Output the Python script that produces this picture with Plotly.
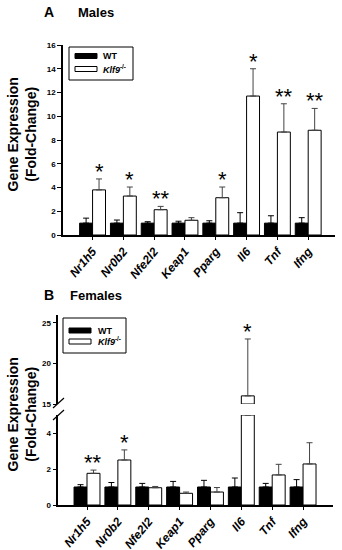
import plotly.graph_objects as go

genes = ["Nr1h5", "Nr0b2", "Nfe2l2", "Keap1", "Pparg", "Il6", "Tnf", "Ifng"]

# Panel A (Males)
a_wt = [1.0, 1.0, 1.0, 1.0, 1.0, 1.0, 1.0, 1.0]
a_wt_err = [0.42, 0.26, 0.12, 0.16, 0.2, 0.88, 0.62, 0.46]
a_ko = [3.8, 3.28, 2.13, 1.24, 3.14, 11.7, 8.67, 8.82]
a_ko_err = [0.92, 0.76, 0.28, 0.22, 0.9, 2.3, 2.38, 1.84]
a_stars = ["*", "*", "**", "", "*", "*", "**", "**"]

# Panel B (Females)
b_wt = [1.0, 1.0, 1.0, 1.0, 1.0, 1.0, 1.0, 1.0]
b_wt_err = [0.13, 0.25, 0.2, 0.31, 0.37, 0.5, 0.2, 0.41]
b_ko = [1.76, 2.5, 0.96, 0.65, 0.72, 16.0, 1.67, 2.28]
b_ko_err = [0.18, 0.56, 0.07, 0.07, 0.25, 7.0, 0.59, 1.18]
b_stars = ["**", "*", "", "", "", "*", "", ""]

W, H = 342, 550
FONT = "Liberation Sans, Arial, sans-serif"
BW = 0.42


def px(x):
    return x / W


def py(y):
    return 1 - y / H


xs = list(range(len(genes)))
fig = go.Figure()


def bars(wt, wte, ko, koe, xa, ya):
    fig.add_trace(go.Bar(
        x=xs, y=wt, width=BW, offset=-BW, xaxis=xa, yaxis=ya,
        marker=dict(color="black", line=dict(color="black", width=1)),
        error_y=dict(type="data", array=wte, arrayminus=[0] * len(wte),
                     symmetric=False, color="black", thickness=1, width=3),
        showlegend=False))
    fig.add_trace(go.Bar(
        x=xs, y=ko, width=BW, offset=0, xaxis=xa, yaxis=ya,
        marker=dict(color="white", line=dict(color="black", width=1)),
        error_y=dict(type="data", array=koe, arrayminus=[0] * len(koe),
                     symmetric=False, color="#444", thickness=1, width=3),
        showlegend=False))


# Panel A
bars(a_wt, a_wt_err, a_ko, a_ko_err, "x", "y")
# Panel B lower part (0-5), values above the break are cut at the break
B_LOW_MAX = 5
B_TOP_MIN = 15
b_ko_low = [min(v, B_LOW_MAX) for v in b_ko]
b_ko_low_err = [e if v <= B_LOW_MAX else 0 for v, e in zip(b_ko, b_ko_err)]
bars(b_wt, b_wt_err, b_ko_low, b_ko_low_err, "x2", "y2")
# Panel B upper part (broken axis)
b_top = [v - B_TOP_MIN if v > B_TOP_MIN else None for v in b_ko]
b_top_err = [e if v > B_TOP_MIN else 0 for v, e in zip(b_ko, b_ko_err)]
fig.add_trace(go.Bar(
    x=xs, y=b_top, base=B_TOP_MIN, width=BW, offset=0, xaxis="x3", yaxis="y3",
    marker=dict(color="white", line=dict(color="black", width=1)),
    error_y=dict(type="data", array=b_top_err, arrayminus=[0] * len(b_top_err),
                 symmetric=False, color="#444", thickness=1, width=3),
    showlegend=False))

ytickfont = dict(family=FONT, size=8, color="black", weight="bold")
xtickfont = dict(family=FONT, size=12, color="black", weight="bold", style="italic")

yax = dict(showline=True, linecolor="black", linewidth=1.5, ticks="outside",
           ticklen=4, tickwidth=1, tickcolor="black", showgrid=False, zeroline=False,
           tickfont=ytickfont, automargin=False)
xax = dict(showline=True, linecolor="black", linewidth=1.5, ticks="outside",
           ticklen=3, tickwidth=1, tickcolor="black", showgrid=False, zeroline=False,
           tickmode="array", tickvals=xs, ticktext=genes, tickangle=-50,
           tickfont=xtickfont, automargin=False)

fig.update_layout(
    width=W, height=H, margin=dict(l=0, r=0, t=0, b=0, autoexpand=False),
    paper_bgcolor="white", plot_bgcolor="rgba(0,0,0,0)",
    barmode="overlay", showlegend=False,
    xaxis=dict(xax, domain=[px(63), px(335)], range=[-0.96, 7.87], anchor="y"),
    yaxis=dict(yax, domain=[py(235), py(45)], range=[0, 16],
               tickvals=[0, 2, 4, 6, 8, 10, 12, 14, 16], anchor="x"),
    xaxis2=dict(xax, domain=[px(58.3), px(333)], range=[-0.93, 7.97], anchor="y2"),
    yaxis2=dict(yax, domain=[py(505), py(415)], range=[0, B_LOW_MAX],
                tickvals=[0, 2, 4], anchor="x2"),
    xaxis3=dict(domain=[px(58.3), px(333)], range=[-0.93, 7.97], anchor="y3",
                visible=False, automargin=False),
    yaxis3=dict(yax, domain=[py(404), py(314.6)], range=[B_TOP_MIN, 26],
                tickvals=[15, 20, 25], anchor="x3"),
)

ann = []
# stars
for i, s in enumerate(a_stars):
    if s:
        ann.append(dict(x=i + BW / 2, y=a_ko[i] + a_ko_err[i], xref="x", yref="y",
                        text=s, showarrow=False, yanchor="bottom", yshift=-7,
                        font=dict(family=FONT, size=22, color="black")))
for i, s in enumerate(b_stars):
    if s:
        top = b_ko[i] + b_ko_err[i]
        upper = b_ko[i] > B_TOP_MIN
        ann.append(dict(x=i + BW / 2, y=top, xref="x3" if upper else "x2",
                        yref="y3" if upper else "y2", text=s, showarrow=False,
                        yanchor="bottom", yshift=-7,
                        font=dict(family=FONT, size=22, color="black")))

# panel titles
for letter, title, ly, tx in [("A", "Males", 12.5, 76), ("B", "Females", 295, 68)]:
    ann.append(dict(x=px(42), y=py(ly), xref="paper", yref="paper", text="<b>%s</b>" % letter,
                    showarrow=False, xanchor="left", yanchor="middle",
                    font=dict(family=FONT, size=14, color="black")))
    ann.append(dict(x=px(tx), y=py(ly), xref="paper", yref="paper", text="<b>%s</b>" % title,
                    showarrow=False, xanchor="left", yanchor="middle",
                    font=dict(family=FONT, size=13, color="black")))

# y axis titles
for cy in [135, 415]:
    ann.append(dict(x=px(21.5), y=py(cy), xref="paper", yref="paper",
                    text="<b>Gene Expression</b><br><b>(Fold-Change)</b>",
                    showarrow=False, textangle=-90, xanchor="center", yanchor="middle",
                    font=dict(family=FONT, size=14, color="black")))

shapes = []
# custom legends
for (x0, y0, x1, y1, sx0, sx1, wy, ky, tx) in [
        (69, 47, 133, 80, 75, 97, 56, 69, 101),
        (63, 318, 126, 353, 69, 91, 330.5, 341.5, 95.5)]:
    shapes.append(dict(type="rect", xref="paper", yref="paper", x0=px(x0), x1=px(x1),
                       y0=py(y0), y1=py(y1), line=dict(color="black", width=1),
                       fillcolor="white", layer="below"))
    shapes.append(dict(type="rect", xref="paper", yref="paper", x0=px(sx0), x1=px(sx1),
                       y0=py(wy - 2.5), y1=py(wy + 2.5), line=dict(color="black", width=1),
                       fillcolor="black"))
    shapes.append(dict(type="rect", xref="paper", yref="paper", x0=px(sx0), x1=px(sx1),
                       y0=py(ky - 2.5), y1=py(ky + 2.5), line=dict(color="black", width=1),
                       fillcolor="white"))
    ann.append(dict(x=px(tx), y=py(wy), xref="paper", yref="paper", text="<b>WT</b>",
                    showarrow=False, xanchor="left", yanchor="middle",
                    font=dict(family=FONT, size=9, color="black")))
    ann.append(dict(x=px(tx), y=py(ky), xref="paper", yref="paper",
                    text="<b><i>Klf9</i><sup>-/-</sup></b>",
                    showarrow=False, xanchor="left", yanchor="middle",
                    font=dict(family=FONT, size=9, color="black")))

# axis break marks
for yb in [403, 415]:
    shapes.append(dict(type="line", xref="paper", yref="paper",
                       x0=px(53), x1=px(64), y0=py(yb + 5), y1=py(yb - 5),
                       line=dict(color="black", width=1.2)))

fig.update_layout(annotations=ann, shapes=shapes)
fig.write_html("out.html", config={"displayModeBar": False},
               post_script="document.body.style.margin='0';document.body.style.padding='0';")
